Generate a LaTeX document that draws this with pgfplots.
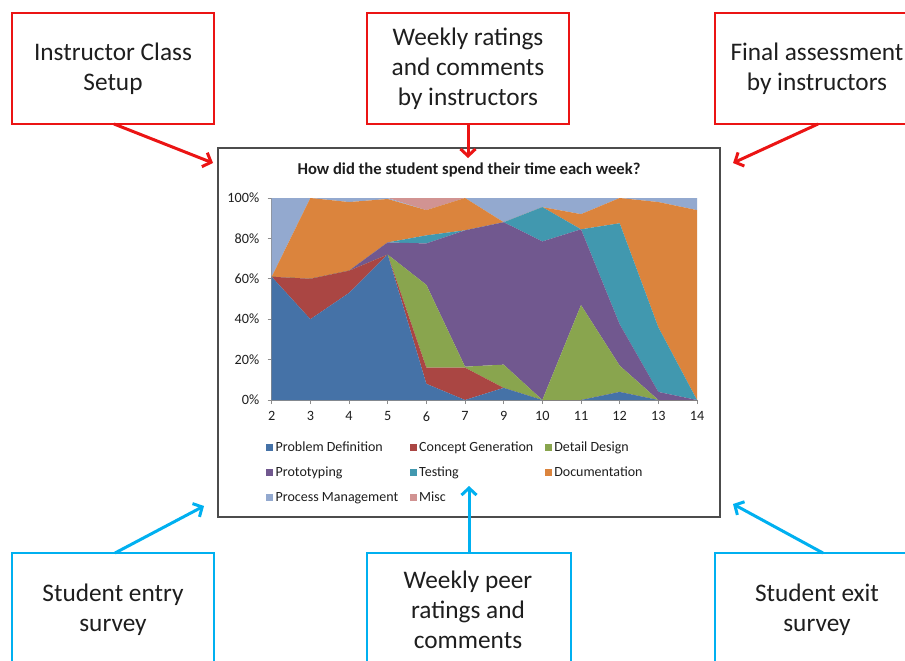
\documentclass[border=0pt]{standalone}
\usepackage{fontspec}
\setmainfont{Carlito}
\usepackage{pgfplots}
\usepackage{pgfplotstable}
\pgfplotsset{compat=1.18}
\usetikzlibrary{arrows.meta}
\definecolor{cPD}{HTML}{4572A7}
\definecolor{cCG}{HTML}{AA4643}
\definecolor{cDD}{HTML}{89A54E}
\definecolor{cPR}{HTML}{71588F}
\definecolor{cTE}{HTML}{4198AF}
\definecolor{cDO}{HTML}{DB843D}
\definecolor{cPM}{HTML}{93A9CF}
\definecolor{cMI}{HTML}{D19392}
\definecolor{boxred}{RGB}{235,20,20}
\definecolor{boxblue}{RGB}{0,176,240}
\definecolor{txt}{HTML}{1E1E1E}
\pgfplotstableread{
x PD CG DD PR TE DO PM MI
0 61 0 0 0 0 0 39 0
1 40 20 0 0 0 40 0 0
2 53 11 0 0 0 34 2 0
3 72 0 0 6 0 21.5 0.5 0
4 8 8 41 20.5 4 12.5 0 6
5 0 16 0.5 67.5 0 16 0 0
6 6 0 11.5 70.5 0 0 12 0
7 0 0 0 78.5 17 0 4.5 0
8 0 0 47 37.5 0 7.5 8 0
9 4 0 13 20.5 50 12.5 0 0
10 0 0 0 4 32 62 2 0
11 0 0 0 0 0 94 6 0
}\datatable
\begin{document}
\begin{tikzpicture}
\useasboundingbox (0pt,0pt) rectangle (905pt,-661pt);
\clip (0pt,0pt) rectangle (905pt,-661pt);
\begin{scope}[x=1pt,y=-1pt]
  \tikzset{boxtxt/.style={align=center,text=txt,font=\fontsize{25.3}{30}\selectfont}}
  % red boxes
  \draw[boxred,line width=2.5pt] (12,13) rectangle (214,124);
  \draw[boxred,line width=2.5pt] (367,13) rectangle (569,124);
  \draw[boxred,line width=2.5pt] (715,13) rectangle (919,124);
  \node[boxtxt] at (113,69) {Instructor Class\\Setup};
  \node[boxtxt] at (468,69) {Weekly ratings\\and comments\\by instructors};
  \node[boxtxt] at (817,69) {Final assessment\\by instructors};
  % blue boxes
  \draw[boxblue,line width=2.5pt] (12,553) rectangle (214,700);
  \draw[boxblue,line width=2.5pt] (367,553) rectangle (571,700);
  \draw[boxblue,line width=2.5pt] (715,553) rectangle (919,700);
  \node[boxtxt] at (113,610) {Student entry\\survey};
  \node[boxtxt] at (468,610) {Weekly peer\\ratings and\\comments};
  \node[boxtxt] at (817,610) {Student exit\\survey};
  % chart frame
  \draw[black!70,line width=1.3pt,fill=white] (218,148) rectangle (720,517);
  \node[font=\bfseries\fontsize{16.6}{19}\selectfont,text=txt] at (469,170) {How did the student spend their time each week?};
\end{scope}
\begin{axis}[
  at={(271.7pt,-400pt)}, anchor=south west,
  scale only axis, width=425.3pt, height=202pt,
  xmin=0, xmax=11, ymin=0, ymax=100,
  stack plots=y,
  axis lines*=left,
  axis line style={-,draw=black!45,line width=0.8pt},
  xtick={0,...,11},
  xticklabels={2,3,4,5,6,7,9,10,11,12,13,14},
  ytick={0,20,...,100},
  yticklabel={\pgfmathprintnumber{\tick}\%},
  tick align=outside, major tick length=4pt,
  tick style={draw=black!45,line width=0.8pt},
  ticklabel style={font=\fontsize{14.2}{16}\selectfont,text=txt},
  xticklabel style={yshift=-4pt},
  yticklabel style={xshift=-5pt},
  /pgf/number format/assume math mode=true,
  legend columns=3,
  legend cell align=left,
  legend style={draw=none,fill=none,inner sep=0pt,
    at={(axis description cs:-0.0134,-0.205)},anchor=north west,
    font=\fontsize{14}{16}\selectfont,text=txt,
    nodes={inner sep=0pt,inner xsep=2.5pt,text height=9.5pt,text depth=2.5pt},
    row sep=13pt,
    /tikz/every even column/.append style={column sep=9pt}},
  legend image code/.code={\fill[#1] (0pt,-3.5pt) rectangle (7pt,3.5pt);},
  every axis plot/.append style={draw=none},
]
\addplot[fill=cPD] table[x=x,y=PD] {\datatable} \closedcycle;
\addlegendentry{Problem Definition}
\addplot[fill=cCG] table[x=x,y=CG] {\datatable} \closedcycle;
\addlegendentry{Concept Generation}
\addplot[fill=cDD] table[x=x,y=DD] {\datatable} \closedcycle;
\addlegendentry{Detail Design}
\addplot[fill=cPR] table[x=x,y=PR] {\datatable} \closedcycle;
\addlegendentry{Prototyping}
\addplot[fill=cTE] table[x=x,y=TE] {\datatable} \closedcycle;
\addlegendentry{Testing}
\addplot[fill=cDO] table[x=x,y=DO] {\datatable} \closedcycle;
\addlegendentry{Documentation}
\addplot[fill=cPM] table[x=x,y=PM] {\datatable} \closedcycle;
\addlegendentry{Process Management}
\addplot[fill=cMI] table[x=x,y=MI] {\datatable} \closedcycle;
\addlegendentry{Misc}
\end{axis}
\begin{scope}[x=1pt,y=-1pt,line width=3pt]
  \draw[boxred,-{Straight Barb[length=7pt,width=15pt]}] (114,124) -- (213,163);
  \draw[boxred,-{Straight Barb[length=7pt,width=15pt]}] (468,124) -- (468,158);
  \draw[boxred,-{Straight Barb[length=7pt,width=15pt]}] (818,124) -- (733,163);
  \draw[boxblue,-{Straight Barb[length=7pt,width=15pt]}] (115,553) -- (204,506);
  \draw[boxblue,-{Straight Barb[length=7pt,width=15pt]}] (469,553) -- (469,486);
  \draw[boxblue,-{Straight Barb[length=7pt,width=15pt]}] (823,553) -- (733,504);
\end{scope}
\end{tikzpicture}
\end{document}
